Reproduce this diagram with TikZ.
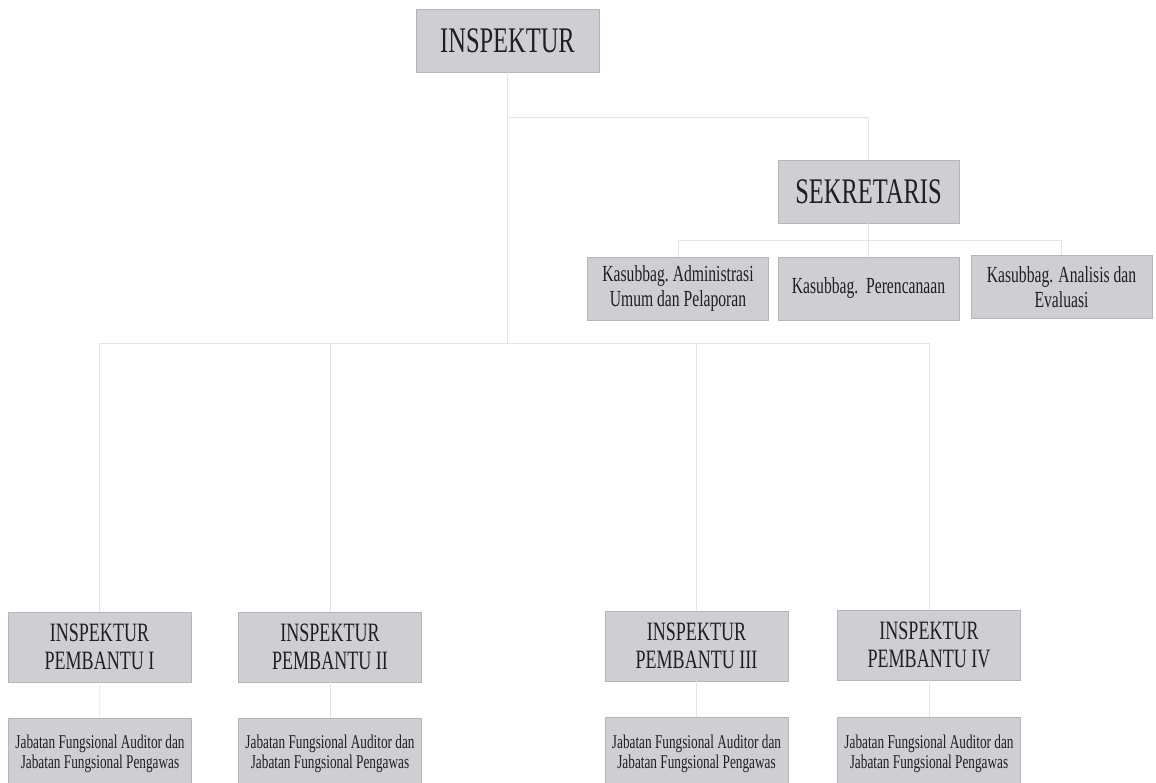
\documentclass[tikz,border=0pt]{standalone}
\usepackage{fontspec}
\newfontfamily\orgfont[FakeStretch=0.68]{Liberation Serif}
\definecolor{boxfill}{RGB}{206,206,211}
\definecolor{boxline}{RGB}{180,180,185}
\definecolor{linkgray}{RGB}{228,228,228}
\definecolor{ink}{RGB}{30,30,35}

\begin{document}
\begin{tikzpicture}[x=1pt,y=-1pt]
	\tikzset{box/.style = {shape=rectangle, draw=boxline, fill=boxfill, inner sep=0pt, align=center, text=ink}}
	\tikzset{bigbox/.style = {box, font=\orgfont\fontsize{36}{38}\selectfont}}
	\tikzset{midbox/.style = {box, minimum width=183pt, minimum height=70pt, font=\orgfont\fontsize{26.5}{28}\selectfont}}
	\tikzset{subbox/.style = {box, minimum width=181pt, minimum height=63pt, font=\orgfont\fontsize{23}{25}\selectfont}}
	\tikzset{smallbox/.style = {box, minimum width=183pt, minimum height=72pt, font=\orgfont\fontsize{19.5}{20}\selectfont}}
	\tikzset{link/.style = {draw=linkgray, line width=0.8pt}}

	\useasboundingbox (0,0) rectangle (1156,783);

	\node[bigbox, minimum width=183pt, minimum height=63pt] (I_0) at (507.5,40.5) {INSPEKTUR};
	\node[bigbox, minimum width=181pt, minimum height=63pt] (S_0) at (868.5,191.5) {SEKRETARIS};

	\node[subbox] (K_1) at (678,288.5) {Kasubbag.\ Administrasi\\Umum dan Pelaporan};
	\node[subbox] (K_2) at (868.5,288.5) {Kasubbag.\ \ Perencanaan};
	\node[subbox] (K_3) at (1061.5,287) {Kasubbag. Analisis dan\\Evaluasi};

	\node[midbox] (P_1) at (99.5,647) {INSPEKTUR\\PEMBANTU I};
	\node[midbox] (P_2) at (330,647) {INSPEKTUR\\PEMBANTU II};
	\node[midbox] (P_3) at (696.5,646) {INSPEKTUR\\PEMBANTU III};
	\node[midbox] (P_4) at (929,645) {INSPEKTUR\\PEMBANTU IV};

	\node[smallbox] (J_1) at (100,754) {Jabatan Fungsional Auditor dan\\Jabatan Fungsional Pengawas};
	\node[smallbox] (J_2) at (330,754) {Jabatan Fungsional Auditor dan\\Jabatan Fungsional Pengawas};
	\node[smallbox] (J_3) at (696.5,753.5) {Jabatan Fungsional Auditor dan\\Jabatan Fungsional Pengawas};
	\node[smallbox] (J_4) at (929,753.5) {Jabatan Fungsional Auditor dan\\Jabatan Fungsional Pengawas};

	\coordinate (sek_bus) at (0,117);
	\coordinate (sub_bus) at (0,240);
	\coordinate (main_bus) at (0,343);

	\draw[link] (I_0.south) -- (I_0.south |- main_bus);
	\draw[link] (I_0.south |- sek_bus) -- (S_0.north |- sek_bus) -- (S_0.north);

	\draw[link] (S_0.south) -- (S_0.south |- sub_bus);
	\draw[link] (K_1.north |- sub_bus) -- (K_3.north |- sub_bus);
	\draw[link] (K_1.north |- sub_bus) -- (K_1.north);
	\draw[link] (K_2.north |- sub_bus) -- (K_2.north);
	\draw[link] (K_3.north |- sub_bus) -- (K_3.north);

	\draw[link] (P_1.north |- main_bus) -- (P_4.north |- main_bus);
	\draw[link] (P_1.north |- main_bus) -- (P_1.north);
	\draw[link] (P_2.north |- main_bus) -- (P_2.north);
	\draw[link] (P_3.north |- main_bus) -- (P_3.north);
	\draw[link] (P_4.north |- main_bus) -- (P_4.north);

	\draw[link] (P_1)--(J_1);
	\draw[link] (P_2)--(J_2);
	\draw[link] (P_3)--(J_3);
	\draw[link] (P_4)--(J_4);

\end{tikzpicture}
\end{document}
